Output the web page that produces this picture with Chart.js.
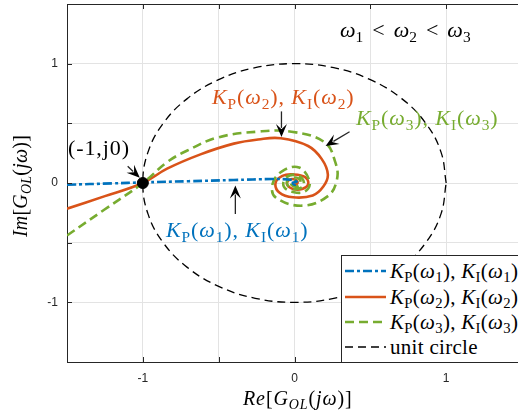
<!DOCTYPE html>
<html lang="en">
<head>
<meta charset="UTF-8">
<title>Nyquist plot</title>
<script src="https://cdn.jsdelivr.net/npm/chart.js"></script>
<style>
    body { margin: 0; overflow: hidden; background: #fff; }
    .wrap { position: relative; width: 524px; height: 417px; }
    .lbl { position: absolute; font-family: "Liberation Serif", serif; white-space: nowrap; line-height: 1; }
    .lbl sub, .row sub { font-size: 0.7em; vertical-align: -0.3em; line-height: 0; }
    .math { letter-spacing: 0.9px; }
    .rel { margin: 0 9px; }
    .legend {
        position: absolute; left: 341px; top: 255px; width: 200px; height: 106px;
        border: 1px solid #262626; background: #fff;
    }
    .row { position: absolute; left: 2px; height: 24px; display: flex; align-items: center; }
    .row svg { margin-right: 4px; }
    .row span { font-family: "Liberation Serif", serif; font-size: 21px; white-space: nowrap; letter-spacing: 0.3px; }
</style>
</head>
<body>
<div class="wrap">
    <canvas id="nyq"></canvas>

    <div class="lbl" style="left:340px; top:19px; font-size:22px;"><i>ω</i><sub>1</sub><span class="rel">&lt;</span><i>ω</i><sub>2</sub><span class="rel">&lt;</span><i>ω</i><sub>3</sub></div>
    <div class="lbl math" style="left:68px; top:137px; font-size:22px;">(-1,j0)</div>
    <div class="lbl math" style="left:212px; top:86px; font-size:22px; color:#D95319;"><i>K</i><sub>P</sub>(<i>ω</i><sub>2</sub>), <i>K</i><sub>I</sub>(<i>ω</i><sub>2</sub>)</div>
    <div class="lbl math" style="left:356px; top:107px; font-size:22px; color:#77AC30;"><i>K</i><sub>P</sub>(<i>ω</i><sub>3</sub>), <i>K</i><sub>I</sub>(<i>ω</i><sub>3</sub>)</div>
    <div class="lbl math" style="left:166px; top:219px; font-size:22px; color:#0072BD;"><i>K</i><sub>P</sub>(<i>ω</i><sub>1</sub>), <i>K</i><sub>I</sub>(<i>ω</i><sub>1</sub>)</div>

    <div class="lbl math" style="left:243px; top:388px; font-size:20px;"><i>Re</i>[<i>G</i><sub><i>OL</i></sub>(<i>jω</i>)]</div>
    <div class="lbl" style="left:20px; top:186px; font-size:20px; letter-spacing:0.2px; transform:translate(-50%,-50%) rotate(-90deg);"><i>Im</i>[<i>G</i><sub><i>OL</i></sub>(<i>jω</i>)]</div>

    <div class="legend" id="legend"></div>
</div>

<script>
    // Nyquist curves, [Re, Im]
    const curveW1 = [
        [-1.5, -0.015], [-1.2, -0.003], [-1.0, 0.005], [-0.7, 0.015], [-0.4, 0.025],
        [-0.15, 0.033], [-0.05, 0.03], [0.0, 0.02], [0.02, 0.0], [0.0, -0.015],
        [-0.012, 0.0], [0.0, 0.006], [0.0, 0.0]
    ];
    const curveW2 = [
        [-1.5, -0.215], [-1.25, -0.11], [-1.0, 0.0], [-0.84, 0.12], [-0.62, 0.24],
        [-0.4, 0.33], [-0.24, 0.365], [-0.09, 0.375], [0.09, 0.31], [0.18, 0.2],
        [0.22, 0.07], [0.19, -0.03], [0.12, -0.105], [-0.01, -0.12], [-0.1, -0.08],
        [-0.125, 0.0], [-0.08, 0.06], [-0.01, 0.072], [0.07, 0.05], [0.09, -0.01],
        [0.05, -0.05], [-0.01, -0.05], [-0.05, -0.01], [-0.03, 0.03], [0.01, 0.025],
        [0.02, 0.0], [0.0, -0.012], [0.0, 0.0]
    ];
    const curveW3 = [
        [-1.5, -0.44], [-1.25, -0.22], [-1.0, 0.0], [-0.84, 0.175], [-0.71, 0.27],
        [-0.51, 0.38], [-0.245, 0.43], [-0.02, 0.43], [0.2, 0.34], [0.27, 0.17],
        [0.28, 0.03], [0.22, -0.11], [0.05, -0.19], [-0.125, -0.12], [-0.145, -0.01],
        [-0.08, 0.1], [0.03, 0.13], [0.1, 0.01], [0.07, -0.07], [-0.01, -0.075],
        [-0.07, -0.03], [-0.06, 0.04], [0.0, 0.07], [0.05, 0.04], [0.06, -0.02],
        [0.02, -0.05], [-0.03, -0.04], [-0.05, 0.01], [-0.02, 0.045], [0.03, 0.035],
        [0.04, -0.01], [0.01, -0.03], [-0.02, -0.015], [-0.015, 0.02], [0.01, 0.015], [0.0, 0.0]
    ];
    // unit circle every 15 degrees
    const unitCircle = [
        [1, 0], [0.966, 0.259], [0.866, 0.5], [0.707, 0.707], [0.5, 0.866], [0.259, 0.966],
        [0, 1], [-0.259, 0.966], [-0.5, 0.866], [-0.707, 0.707], [-0.866, 0.5], [-0.966, 0.259],
        [-1, 0], [-0.966, -0.259], [-0.866, -0.5], [-0.707, -0.707], [-0.5, -0.866], [-0.259, -0.966],
        [0, -1], [0.259, -0.966], [0.5, -0.866], [0.707, -0.707], [0.866, -0.5], [0.966, -0.259], [1, 0]
    ];
    const criticalPoint = [[-1, 0]];

    const seriesNames = [
        '<i>K</i><sub>P</sub>(<i>ω</i><sub>1</sub>), <i>K</i><sub>I</sub>(<i>ω</i><sub>1</sub>)',
        '<i>K</i><sub>P</sub>(<i>ω</i><sub>2</sub>), <i>K</i><sub>I</sub>(<i>ω</i><sub>2</sub>)',
        '<i>K</i><sub>P</sub>(<i>ω</i><sub>3</sub>), <i>K</i><sub>I</sub>(<i>ω</i><sub>3</sub>)',
        'unit circle'
    ];
    const seriesColors = ['#0072BD', '#D95319', '#77AC30', '#000000'];
    const seriesDash = [[9, 3, 3, 3], [], [9, 5], [8, 5]];
    const seriesWidth = [2.6, 2.6, 2.6, 1.3];

    // arrows in data coords: [tailX, tailY, tipX, tipY]
    const arrows = [
        [-1.1, 0.14, -1.02, 0.045],
        [-0.086, 0.6, -0.086, 0.385],
        [0.363, 0.43, 0.205, 0.31],
        [-0.39, -0.26, -0.39, -0.02]
    ];

    const toPts = arr => arr.map(p => ({ x: p[0], y: p[1] }));

    function drawArrow(ctx, x1, y1, x2, y2) {
        const a = Math.atan2(y2 - y1, x2 - x1);
        const L = 13, W = 5.5;
        const c = Math.cos(a), s = Math.sin(a);
        ctx.save();
        ctx.strokeStyle = '#262626';
        ctx.fillStyle = '#000';
        ctx.lineWidth = 1.3;
        ctx.beginPath();
        ctx.moveTo(x1, y1);
        ctx.lineTo(x2 - L * 0.7 * c, y2 - L * 0.7 * s);
        ctx.stroke();
        ctx.beginPath();
        ctx.moveTo(x2, y2);
        ctx.lineTo(x2 - L * c + W * s, y2 - L * s - W * c);
        ctx.lineTo(x2 - L * 0.6 * c, y2 - L * 0.6 * s);
        ctx.lineTo(x2 - L * c - W * s, y2 - L * s + W * c);
        ctx.closePath();
        ctx.fill();
        ctx.restore();
    }

    const frame = {
        id: 'frame',
        afterDatasetsDraw(chart) {
            const { ctx, chartArea: ca, scales } = chart;
            ctx.save();
            ctx.strokeStyle = '#262626';
            ctx.lineWidth = 1;
            // top border
            ctx.beginPath();
            ctx.moveTo(ca.left, ca.top + 0.5);
            ctx.lineTo(ca.right, ca.top + 0.5);
            ctx.stroke();
            // inner ticks
            scales.x.ticks.forEach(t => {
                const px = Math.round(scales.x.getPixelForValue(t.value)) + 0.5;
                ctx.beginPath();
                ctx.moveTo(px, ca.bottom); ctx.lineTo(px, ca.bottom - 5);
                ctx.moveTo(px, ca.top); ctx.lineTo(px, ca.top + 5);
                ctx.stroke();
            });
            scales.y.ticks.forEach(t => {
                const py = Math.round(scales.y.getPixelForValue(t.value)) + 0.5;
                ctx.beginPath();
                ctx.moveTo(ca.left, py); ctx.lineTo(ca.left + 5, py);
                ctx.stroke();
            });
            ctx.restore();
            arrows.forEach(a => drawArrow(ctx,
                scales.x.getPixelForValue(a[0]), scales.y.getPixelForValue(a[1]),
                scales.x.getPixelForValue(a[2]), scales.y.getPixelForValue(a[3])));
        }
    };

    const curves = [curveW1, curveW2, curveW3, unitCircle];
    const datasets = curves.map((c, i) => ({
        data: toPts(c),
        showLine: true,
        borderColor: seriesColors[i],
        borderWidth: seriesWidth[i],
        borderDash: seriesDash[i],
        pointRadius: 0,
        tension: 0.4,
        fill: false,
        order: [2, 4, 3, 5][i]
    }));
    datasets.push({
        data: toPts(criticalPoint),
        pointRadius: 5.5,
        pointBackgroundColor: '#000',
        pointBorderColor: '#000',
        order: 0
    });

    const intLabel = v => Math.abs(v - Math.round(v)) < 1e-9 ? String(Math.round(v)) : '';

    new Chart(document.getElementById('nyq'), {
        type: 'scatter',
        data: { datasets },
        options: {
            responsive: true,
            maintainAspectRatio: false,
            animation: false,
            layout: { autoPadding: false, padding: { top: 4, right: 2, left: 0, bottom: 0 } },
            plugins: { legend: { display: false }, tooltip: { enabled: false } },
            scales: {
                x: {
                    min: -1.5, max: 1.5,
                    afterFit: s => { s.height = 55; s.paddingLeft = 0; s.paddingRight = 0; },
                    ticks: { stepSize: 0.5, callback: intLabel, color: '#262626', padding: 9,
                             maxRotation: 0, font: { family: 'Liberation Sans', size: 12 } },
                    grid: { color: '#e3e3e3', drawTicks: false },
                    border: { color: '#262626' }
                },
                y: {
                    min: -1.5, max: 1.5,
                    afterFit: s => { s.width = 67; s.paddingTop = 0; s.paddingBottom = 0; },
                    ticks: { stepSize: 0.5, callback: intLabel, color: '#262626', padding: 9,
                             font: { family: 'Liberation Sans', size: 12 } },
                    grid: { color: '#e3e3e3', drawTicks: false },
                    border: { color: '#262626' }
                }
            }
        },
        plugins: [frame]
    });

    // legend box
    const legend = document.getElementById('legend');
    const rowTops = [3, 29, 54, 79];
    seriesNames.forEach((name, i) => {
        const row = document.createElement('div');
        row.className = 'row';
        row.style.top = rowTops[i] + 'px';
        const dash = seriesDash[i].length ? seriesDash[i].join(' ') : 'none';
        row.innerHTML =
            '<svg width="42" height="10"><line x1="1" y1="5" x2="42" y2="5" stroke="' + seriesColors[i] +
            '" stroke-width="' + (i === 3 ? 1.3 : 2.6) + '" stroke-dasharray="' + dash + '"/></svg>' +
            '<span>' + name + '</span>';
        legend.appendChild(row);
    });
</script>
</body>
</html>
